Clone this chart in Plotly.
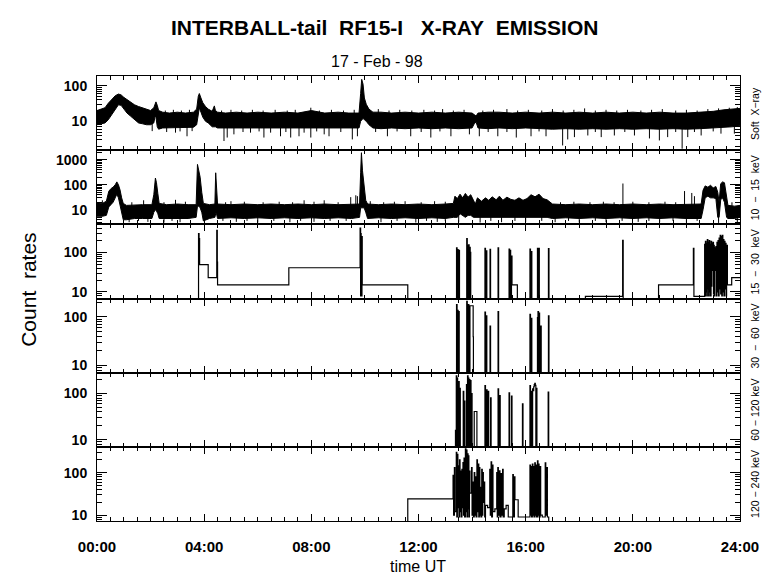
import math
import plotly.graph_objects as go

# ---------------- DATA (time in hours UT, count rates) ----------------
# Soft X-ray: envelope of the dense noisy record (time, low, high)
SOFT_ENV = [
    (0.00, 8.0, 20), (0.15, 8.5, 22), (0.30, 9, 24), (0.42, 11, 32), (0.55, 15, 42),
    (0.68, 22, 52), (0.80, 29, 58), (0.90, 28, 55), (1.00, 22, 47), (1.12, 17, 40),
    (1.25, 14, 35), (1.40, 11, 29), (1.55, 9, 26), (1.70, 8.5, 24), (1.85, 8, 22),
    (2.00, 8, 20), (2.12, 9, 24), (2.17, 14, 32), (2.20, 13, 35), (2.25, 7, 28),
    (2.30, 6, 20), (2.45, 6.5, 18), (2.70, 6.5, 17), (3.00, 6.8, 18), (3.30, 6.5, 17),
    (3.60, 6.8, 18), (3.72, 8, 22), (3.78, 20, 50), (3.82, 24, 60), (3.88, 18, 45),
    (3.95, 13, 33), (4.05, 10, 26), (4.15, 9, 22), (4.30, 7, 19), (4.38, 7, 27),
    (4.42, 7, 20), (4.50, 6.5, 18), (4.80, 6.5, 17), (5.20, 6.8, 18), (5.60, 6.5, 17),
    (6.00, 6.8, 18), (6.50, 6.5, 17), (7.00, 6.8, 18), (7.50, 6.5, 17), (8.00, 6.8, 20),
    (8.50, 6.5, 17), (9.00, 6.5, 18), (9.40, 6.8, 17), (9.78, 6.5, 17), (9.84, 10, 60),
    (9.88, 11, 150), (9.93, 12, 110), (9.98, 11, 45), (10.05, 10, 30), (10.15, 8, 22),
    (10.30, 6.5, 18), (10.60, 6.2, 18), (11.00, 6.5, 17), (11.50, 6.2, 18), (12.00, 6.5, 17),
    (12.50, 6.2, 18), (13.00, 6.5, 17), (13.50, 6.2, 18), (14.00, 6.5, 17), (14.08, 8.5, 15),
    (14.15, 9.5, 14), (14.22, 6.5, 17), (14.60, 6.2, 18), (15.00, 6.5, 18), (15.50, 6.2, 17),
    (16.00, 6.5, 18), (16.50, 6.2, 17), (17.00, 6.0, 18), (17.50, 6.2, 17), (18.00, 6.0, 18),
    (18.50, 6.2, 17), (19.00, 6.0, 18), (19.50, 6.2, 17), (20.00, 6.0, 18), (20.50, 6.2, 17),
    (21.00, 6.0, 18), (21.50, 6.2, 17), (22.00, 6.0, 17), (22.50, 6.2, 18), (23.00, 6.5, 19),
    (23.40, 6.8, 21), (23.70, 7.0, 22), (24.00, 7.5, 23),
]
# isolated excursions out of the soft X-ray band (time, tip value)
SOFT_DIPS = [
    (2.06, 5.3), (2.93, 4.8), (3.36, 3.8), (3.55, 5.3), (4.74, 2.8), (4.86, 3.5),
    (5.11, 4.3), (5.73, 4.8), (6.23, 3.5), (6.48, 4.8), (6.85, 3.8), (7.23, 3.5),
    (7.54, 3.8), (7.73, 4.8), (7.98, 3.5), (8.48, 4.3), (8.66, 3.8), (9.53, 3.1),
    (9.72, 3.8), (10.84, 3.8), (11.71, 3.8), (12.46, 3.5), (13.21, 3.8), (13.90, 4.3),
    (14.27, 3.8), (14.96, 3.8), (15.65, 3.5), (16.20, 3.8), (16.76, 3.8), (17.38, 2.1),
    (17.57, 3.1), (17.82, 3.6), (18.32, 4.0), (18.82, 3.6), (19.31, 4.0), (20.06, 4.0),
    (20.62, 3.3), (20.99, 2.9), (21.30, 3.6), (21.84, 1.7), (22.05, 3.6), (22.55, 4.0),
    (23.29, 4.5), (23.79, 4.5), (2.60, 5.0), (3.10, 5.2), (5.45, 5.0), (6.05, 5.2),
    (7.05, 5.0), (8.20, 5.2), (9.10, 5.0), (10.40, 5.0), (11.20, 5.2), (12.10, 5.0),
    (12.80, 5.2), (14.60, 5.0), (15.30, 5.0), (16.50, 5.2), (18.60, 5.0), (19.70, 5.0),
    (21.60, 5.0), (22.30, 5.0), (23.00, 5.2),
]
SOFT_PEAKS = [
    (2.55, 20), (2.85, 21), (3.15, 20), (3.45, 21), (4.65, 20), (5.00, 21), (5.40, 20),
    (5.80, 21), (6.20, 20), (6.65, 21), (7.10, 20), (7.40, 21), (7.98, 24), (8.30, 20),
    (8.75, 21), (9.20, 20), (9.60, 21), (10.50, 22), (10.90, 20), (11.30, 21), (11.75, 20),
    (12.20, 21), (12.60, 20), (12.90, 22), (13.30, 20), (13.70, 21), (14.40, 20), (14.80, 21),
    (15.30, 22), (15.70, 20), (16.10, 21), (16.60, 20), (17.00, 22), (17.40, 20), (17.80, 21),
    (18.20, 23), (18.60, 20), (19.00, 21), (19.40, 20), (19.80, 21), (20.30, 20), (20.70, 21),
    (21.10, 22), (21.60, 20), (22.00, 21), (22.40, 20), (22.80, 22), (23.20, 23), (23.60, 24),
    (23.90, 25),
]

# 10 - 15 keV: envelope (time, low, high)
B1_ENV = [
    (0.00, 5.5, 19), (0.20, 5.5, 18), (0.35, 6, 22), (0.44, 13, 55), (0.52, 16, 70),
    (0.60, 20, 80), (0.68, 30, 100), (0.74, 42, 130), (0.80, 30, 100), (0.86, 14, 62),
    (0.92, 6, 30), (0.98, 4, 18), (1.10, 4, 15), (1.40, 4.5, 16), (1.70, 4.5, 16),
    (2.05, 4.5, 16), (2.12, 8, 40), (2.18, 10, 185), (2.22, 9, 120), (2.27, 7, 45),
    (2.32, 4.5, 18), (2.60, 4.5, 16), (3.00, 4.5, 17), (3.40, 4.5, 16), (3.70, 5, 16),
    (3.75, 14, 650), (3.80, 14, 400), (3.85, 12, 200), (3.91, 8, 50), (3.97, 3.6, 18),
    (4.20, 4.5, 16), (4.40, 5, 17), (4.43, 7, 300), (4.46, 7, 45), (4.50, 4.5, 17),
    (5.00, 4.8, 16), (5.50, 4.5, 17), (6.00, 4.8, 16), (6.50, 4.5, 17), (7.00, 4.8, 16),
    (7.50, 4.5, 17), (8.00, 4.8, 16), (8.50, 4.5, 17), (9.00, 4.8, 16), (9.50, 4.5, 17),
    (9.80, 5, 17), (9.84, 12, 300), (9.87, 12, 1900), (9.91, 12, 360), (9.97, 12, 66),
    (10.03, 8, 24), (10.10, 4.5, 17), (10.50, 4.8, 16), (11.00, 4.5, 17), (11.50, 4.8, 16),
    (12.00, 4.5, 17), (12.50, 4.8, 16), (13.00, 4.5, 17), (13.30, 5, 18), (13.36, 5, 35),
    (13.45, 5, 28), (13.55, 7, 42), (13.65, 6, 30), (13.75, 5, 45), (13.85, 6, 32),
    (13.95, 6, 40), (14.05, 5, 24), (14.12, 5, 17), (14.20, 5, 30), (14.35, 5, 22),
    (14.50, 5, 30), (14.62, 5, 24), (14.75, 5, 33), (14.90, 5, 25), (15.02, 5, 35),
    (15.15, 5, 24), (15.30, 5, 32), (15.45, 5, 26), (15.60, 5, 24), (15.75, 5, 30),
    (15.90, 5, 24), (16.05, 5, 28), (16.20, 5, 40), (16.35, 5, 33), (16.50, 5, 42),
    (16.65, 5, 28), (16.80, 5, 25), (17.00, 4.5, 17), (17.50, 4.8, 16), (18.00, 4.5, 17),
    (18.50, 4.8, 16), (19.00, 4.5, 17), (19.50, 4.8, 16), (20.00, 4.5, 17), (20.50, 4.8, 16),
    (21.00, 4.5, 17), (21.50, 4.8, 16), (22.00, 4.5, 17), (22.55, 4.5, 17), (22.62, 10, 60),
    (22.70, 30, 90), (22.80, 35, 80), (22.90, 30, 95), (23.00, 30, 75), (23.10, 28, 85),
    (23.17, 5, 50), (23.22, 5, 20), (23.28, 25, 110), (23.35, 30, 130), (23.42, 20, 120),
    (23.50, 5, 30), (23.55, 4.5, 15), (23.80, 4.5, 14), (24.00, 5, 15),
]
B1_DIPS = [
    (1.20, 3.2), (1.90, 3.3), (2.50, 3.1), (3.10, 3.2), (5.20, 3.3), (6.00, 3.1),
    (7.20, 3.2), (8.10, 3.3), (10.60, 3.2), (11.90, 3.1), (12.70, 3.3), (13.50, 3.2),
    (14.30, 3.1), (15.10, 3.2), (16.00, 3.3), (17.10, 3.2), (18.00, 3.1), (19.00, 3.2),
    (20.20, 3.3), (21.00, 3.2), (22.00, 3.1), (23.20, 3.0), (23.90, 3.2), (1.55, 3.6),
    (2.80, 3.6), (4.70, 3.6), (5.60, 3.6), (6.60, 3.6), (7.60, 3.6), (8.70, 3.6),
    (9.30, 3.6), (11.20, 3.6), (12.30, 3.6), (13.00, 3.6), (14.70, 3.6), (15.60, 3.6),
    (16.60, 3.6), (17.60, 3.6), (18.60, 3.6), (19.60, 3.6), (20.60, 3.6), (21.50, 3.6),
    (22.40, 3.6),
]
B1_PEAKS = [
    (0.20, 24), (1.74, 24), (2.93, 25), (5.00, 22), (7.73, 24), (8.48, 24), (9.47, 32),
    (9.66, 38), (9.72, 35), (10.20, 22), (11.50, 22), (12.60, 22), (19.63, 112),
    (21.93, 56), (22.20, 47), (22.30, 35), (1.30, 20), (2.50, 20), (3.30, 21), (4.80, 20),
    (5.50, 21), (6.20, 20), (6.80, 21), (7.30, 20), (8.10, 21), (9.00, 20), (10.70, 20),
    (11.10, 21), (12.10, 20), (13.00, 21), (17.30, 20), (17.80, 21), (18.40, 20),
    (18.90, 21), (19.30, 20), (20.00, 21), (20.60, 20), (21.20, 21), (21.60, 20),
    (23.70, 20),
]

# 15 - 30 keV: histogram steps (time, value); 1 = no counts
B2_T = [0.00, 3.79, 3.81, 3.83, 4.15, 4.47, 4.49, 4.50, 7.16, 9.82, 9.84, 9.85, 9.86,
        9.87, 9.88, 9.89, 9.90, 11.60, 13.42, 13.44, 13.46, 13.48, 13.51, 13.53, 13.80,
        13.82, 13.85, 13.87, 13.89, 13.91, 13.93, 13.95, 14.48, 14.50, 14.53, 14.55,
        14.67, 14.69, 14.97, 14.99, 15.38, 15.40, 15.42, 15.44, 15.47, 15.49, 15.69,
        16.16, 16.18, 16.21, 16.23, 16.44, 16.46, 16.49, 16.51, 16.85, 16.87, 18.23,
        19.62, 19.64, 20.96, 22.26, 22.28,
        22.68, 22.70, 22.71, 22.73, 22.74, 22.76, 22.78, 22.80, 22.81, 22.83, 22.85,
        22.87, 22.88, 22.90, 22.92, 22.94, 22.95, 22.97, 22.99, 23.01, 23.02, 23.04,
        23.06, 23.08, 23.10, 23.12, 23.14, 23.16, 23.18, 23.20, 23.22, 23.24, 23.26,
        23.28, 23.30, 23.32, 23.34, 23.36, 23.38, 23.40, 23.42, 23.44, 23.46, 23.48,
        23.50, 23.53, 23.69, 24.00]
B2_V = [1, 297, 222, 49, 23, 360, 57, 15.2, 41, 412, 8, 300, 10,
        60, 8, 250, 15.2, 1, 131, 1, 117, 1, 113, 1, 222,
        1, 150, 155, 1, 135, 100, 1, 126, 1, 110, 1,
        120, 1, 131, 1, 122, 1, 113, 1, 81, 15.2, 1,
        122, 1, 105, 1, 127, 1, 127, 1, 124, 1, 7.7,
        201, 1, 15.2, 126, 7.7,
        160, 8, 190, 10, 170, 8, 210, 12, 180, 8, 200,
        10, 160, 8, 190, 14, 170, 35, 180, 9, 150, 8,
        130, 35, 140, 8, 180, 10, 200, 8, 230, 12, 270,
        9, 250, 8, 270, 10, 210, 8, 190, 12, 170, 8,
        150, 15.2, 23, 23]

# 30 - 60 keV
B3_T = [0.00, 13.42, 13.44, 13.46, 13.48, 13.50, 13.52, 13.80, 13.82, 13.84, 13.86,
        13.88, 13.90, 13.92, 14.04, 14.05, 14.48, 14.50, 14.53, 14.55, 14.67, 14.69,
        14.97, 14.99, 16.16, 16.18, 16.21, 16.23, 16.44, 16.46, 16.48, 16.50, 16.52,
        16.56, 16.58, 16.85, 16.87, 24.00]
B3_V = [1, 179, 1, 137, 1, 128, 1, 209, 165, 1, 179,
        160, 1, 170, 39, 1, 126, 1, 105, 1, 65, 1,
        129, 1, 113, 1, 93, 1, 97, 129, 1, 120, 1,
        65, 1, 105, 1, 1]

# 60 - 120 keV
B4_T = [0.00, 13.38, 13.40, 13.41, 13.43, 13.44, 13.46, 13.47, 13.49, 13.50, 13.52,
        13.54, 13.56, 13.67, 13.69, 13.71, 13.73, 13.79, 13.81, 13.83, 13.85, 13.86,
        13.88, 13.90, 13.92, 13.94, 13.96, 13.98, 14.00, 14.08, 14.18, 14.48, 14.50,
        14.54, 14.56, 14.60, 14.62, 14.69, 14.71, 14.97, 14.99, 15.03, 15.05, 15.38,
        15.40, 15.47, 15.49, 15.88, 15.90, 16.16, 16.18, 16.22, 16.24, 16.26, 16.28,
        16.30, 16.32, 16.34, 16.36, 16.38, 16.40, 16.42, 16.84, 16.86, 24.00]
B4_V = [1, 16, 1, 241, 1, 216, 1, 150, 1, 180, 1,
        130, 1, 112, 1, 69, 1, 155, 1, 241, 1, 216,
        1, 200, 1, 190, 1, 100, 1, 41, 1, 148, 1,
        120, 1, 112, 1, 81, 1, 126, 1, 90, 1, 103,
        1, 88, 1, 60, 1, 148, 1, 112, 1, 126, 115,
        140, 155, 165, 150, 1, 130, 1, 108, 1, 1]

# 120 - 240 keV
B5_T = [0.00, 11.60, 13.29, 13.31, 13.34, 13.36, 13.41, 13.43, 13.45, 13.47, 13.49,
        13.51, 13.53, 13.55, 13.57, 13.59, 13.62, 13.64, 13.66, 13.68, 13.70, 13.72,
        13.75, 13.77, 13.79, 13.81, 13.83, 13.85, 13.86, 13.88, 13.90, 13.92, 13.98,
        14.00, 14.03, 14.05, 14.08, 14.10, 14.13, 14.15, 14.18, 14.20, 14.23, 14.25,
        14.27, 14.29, 14.31, 14.33, 14.36, 14.38, 14.40, 14.42, 14.45, 14.47, 14.50,
        14.58, 14.66, 14.68, 14.71, 14.73, 14.76, 14.78, 14.85, 14.92, 14.94, 14.96,
        14.98, 15.02, 15.04, 15.08, 15.10, 15.14, 15.16, 15.20, 15.27, 15.35, 15.52,
        15.54, 15.58, 15.60, 15.72, 16.16, 16.18, 16.20, 16.22, 16.25, 16.27, 16.29,
        16.31, 16.34, 16.36, 16.38, 16.40, 16.44, 16.46, 16.48, 16.50, 16.54, 16.56,
        16.62, 16.73, 16.75, 16.79, 16.81, 16.86, 24.00]
B5_V = [1, 24.2, 86, 10, 131, 12, 302, 9, 270, 15, 144,
        9, 200, 12, 109, 9, 120, 15, 174, 10, 220, 9,
        363, 12, 340, 9, 280, 14, 250, 9, 109, 33, 131,
        10, 60, 9, 100, 10, 80, 9, 200, 12, 160, 9,
        131, 10, 45, 9, 120, 10, 100, 20, 60, 9, 17,
        15, 120, 10, 180, 9, 150, 12, 14, 100, 9, 131,
        10, 110, 9, 95, 10, 120, 9, 14, 17, 9, 90,
        9, 80, 23, 9, 150, 10, 140, 9, 160, 10, 140,
        9, 170, 10, 150, 9, 190, 10, 160, 9, 140, 10,
        9, 170, 10, 131, 9, 1, 1]

CHANNELS = ["Soft\u00a0\u00a0X\u2212ray",
            "10\u00a0\u00a0\u2212\u00a0\u00a015\u00a0\u00a0keV",
            "15\u00a0\u00a0\u2212\u00a0\u00a030\u00a0\u00a0keV",
            "30\u00a0\u00a0\u2212\u00a0\u00a060\u00a0\u00a0keV",
            "60\u00a0\u2212\u00a0120\u00a0keV",
            "120\u00a0\u2212\u00a0240\u00a0keV"]
Y_RANGES = [(0.19, 2.27), (0.42, 3.38), (0.835, 2.71), (0.85, 2.38), (0.85, 2.45), (0.86, 2.61)]
X_TICKS = [0, 4, 8, 12, 16, 20, 24]
X_TICKTEXT = ["00:00", "04:00", "08:00", "12:00", "16:00", "20:00", "24:00"]

# ---------------- FIGURE ----------------
fig = go.Figure()
BLK = "black"


def axnames(row):
    return ("x" if row == 1 else f"x{row}"), ("y" if row == 1 else f"y{row}")


def add_band(env, dips, peaks, base, row):
    t = [e[0] for e in env]
    lo = [e[1] for e in env]
    hi = [e[2] for e in env]
    xa, ya = axnames(row)
    fig.add_trace(go.Scatter(x=t, y=lo, mode="lines", line=dict(color=BLK, width=1),
                             xaxis=xa, yaxis=ya, hoverinfo="skip"))
    fig.add_trace(go.Scatter(x=t, y=hi, mode="lines", line=dict(color=BLK, width=1),
                             fill="tonexty", fillcolor=BLK, xaxis=xa, yaxis=ya, hoverinfo="skip"))
    wx, wy = [], []
    for tt, v in list(dips) + list(peaks):
        wx += [tt, tt, None]
        wy += [v, base, None]
    fig.add_trace(go.Scatter(x=wx, y=wy, mode="lines", line=dict(color=BLK, width=1),
                             xaxis=xa, yaxis=ya, hoverinfo="skip"))


def add_steps(t, v, row):
    xa, ya = axnames(row)
    fig.add_trace(go.Scatter(x=t, y=v, mode="lines", line=dict(color=BLK, width=1.2, shape="hv"),
                             xaxis=xa, yaxis=ya, hoverinfo="skip"))


add_band(SOFT_ENV, SOFT_DIPS, SOFT_PEAKS, 10, 1)
add_band(B1_ENV, B1_DIPS, B1_PEAKS, 9, 2)
add_steps(B2_T, B2_V, 3)
add_steps(B3_T, B3_V, 4)
add_steps(B4_T, B4_V, 5)
add_steps(B5_T, B5_V, 6)

minor_vals = [m * 10 ** k for k in range(-1, 4) for m in range(2, 10)]

# page has an 8 px body margin, so the figure is offset by 8 px
layout = dict(
    width=772, height=571,
    margin=dict(l=89, r=40, t=68, b=58),
    paper_bgcolor="white", plot_bgcolor="white",
    showlegend=False,
)
n = 6
for i in range(1, n + 1):
    top = 1 - (i - 1) / n
    bot = 1 - i / n
    xk = "xaxis" if i == 1 else f"xaxis{i}"
    yk = "yaxis" if i == 1 else f"yaxis{i}"
    xa, ya = axnames(i)
    xax = dict(
        domain=[0, 1], anchor=ya, range=[0, 24], showline=True, linecolor=BLK, linewidth=1,
        mirror="allticks", ticks="inside", ticklen=7, tickwidth=1, tickcolor=BLK,
        tickvals=X_TICKS, ticktext=X_TICKTEXT, showgrid=False, zeroline=False,
        minor=dict(ticks="inside", ticklen=4, tickwidth=1, tickcolor=BLK, dtick=0.5, tick0=0,
                   showgrid=False),
        showticklabels=(i == n),
        tickfont=dict(family="Liberation Sans", size=15, color=BLK, weight="bold"),
        ticklabelstandoff=12,
    )
    if i > 1:
        xax["matches"] = "x"
    layout[xk] = xax
    lo, hi = Y_RANGES[i - 1]
    tv = [v for v in (10, 100, 1000) if lo <= math.log10(v) <= hi]
    layout[yk] = dict(
        domain=[bot, top], anchor=xa, type="log", range=[lo, hi],
        showline=True, linecolor=BLK, linewidth=1, mirror="allticks",
        ticks="inside", ticklen=10, tickwidth=1, tickcolor=BLK,
        tickvals=tv, ticktext=[str(v) for v in tv],
        tickfont=dict(family="Liberation Sans", size=14, color=BLK, weight="bold"),
        showgrid=False, zeroline=False, ticklabelstandoff=6,
        minor=dict(ticks="inside", ticklen=5, tickwidth=1, tickcolor=BLK,
                   tickvals=minor_vals, showgrid=False),
    )

fig.update_layout(**layout)

C = dict(xref="paper", yref="paper", showarrow=False, xanchor="center", yanchor="middle")
ann = [
    dict(text="INTERBALL-tail\u00a0\u00a0RF15-I\u00a0\u00a0\u00a0X-RAY\u00a0\u00a0EMISSION",
         x=0.447, y=1.110, font=dict(family="Liberation Sans", size=21, color=BLK, weight="bold"), **C),
    dict(text="17 - Feb - 98", x=0.436, y=1.0315,
         font=dict(family="Liberation Sans", size=16, color=BLK), **C),
    dict(text="Count\u00a0\u00a0rates", x=-0.107, y=0.520, textangle=-90,
         font=dict(family="Liberation Sans", size=21, color=BLK), **C),
    dict(text="time UT", x=0.499, y=-0.103,
         font=dict(family="Liberation Sans", size=16, color=BLK), **C),
]
for i, lab in enumerate(CHANNELS, start=1):
    ann.append(dict(text=lab, x=1.0233, y=0.5, xref="paper",
                    yref=("y domain" if i == 1 else f"y{i} domain"),
                    showarrow=False, textangle=-90, xanchor="center", yanchor="middle",
                    font=dict(family="Liberation Sans", size=10.5, color=BLK)))
fig.update_layout(annotations=ann)

fig.write_html("out.html")
